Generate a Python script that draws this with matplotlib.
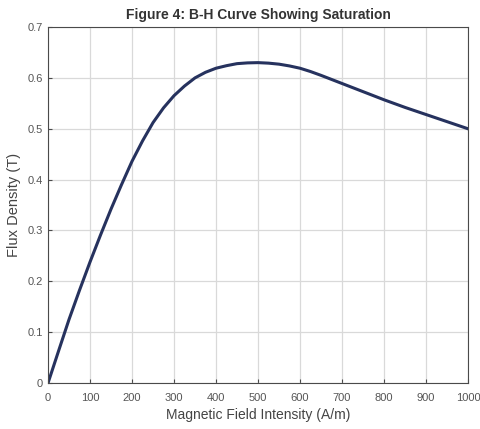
import matplotlib
matplotlib.use('Agg')
import matplotlib.pyplot as plt
import numpy as np

# B-H curve
field_strength = [0, 25, 50, 75, 100, 125, 150, 175, 200, 225, 250, 275, 300, 325, 350,
                  375, 400, 425, 450, 475, 500, 525, 550, 575, 600, 625, 650, 675, 700,
                  750, 800, 850, 900, 950, 1000]
flux_density = [0.0, 0.0628, 0.125, 0.1825, 0.238, 0.291, 0.342, 0.390, 0.436, 0.476,
                0.512, 0.541, 0.565, 0.584, 0.600, 0.611, 0.619, 0.624, 0.628, 0.6295,
                0.630, 0.629, 0.627, 0.6235, 0.619, 0.6125, 0.605, 0.597, 0.589,
                0.573, 0.557, 0.542, 0.528, 0.514, 0.500]

plt.rcParams['font.family'] = ['Liberation Sans', 'DejaVu Sans']

fig = plt.figure(figsize=(4.8, 4.29), dpi=100)
ax = fig.add_axes([0.1, 0.107, 0.875, 0.83])

ax.plot(field_strength, flux_density, color='#26325e', linewidth=2.2,
        solid_joinstyle='round')

ax.set_xlim(0, 1000)
ax.set_ylim(0, 0.7)
ax.set_xticks(np.arange(0, 1001, 100))
ax.set_yticks(np.arange(0, 0.71, 0.1))
ax.set_yticklabels(['0', '0.1', '0.2', '0.3', '0.4', '0.5', '0.6', '0.7'])
ax.grid(True, color='#d9d9d9', linewidth=0.9)
ax.set_axisbelow(True)
for s in ax.spines.values():
    s.set_color('#4a4a4a')
    s.set_linewidth(0.8)
ax.tick_params(direction='in', length=3, labelsize=8, colors='#4a4a4a', labelcolor='#555555')
ax.tick_params(axis='x', pad=7)

ax.set_title('Figure 4: B-H Curve Showing Saturation', fontsize=10, fontweight='bold', color='#333333', pad=6)
ax.set_xlabel('Magnetic Field Intensity (A/m)', fontsize=10, color='#444444', labelpad=4)
ax.set_ylabel('Flux Density (T)', fontsize=10.5, color='#444444', labelpad=5)

fig.savefig('out.png', dpi=100)
